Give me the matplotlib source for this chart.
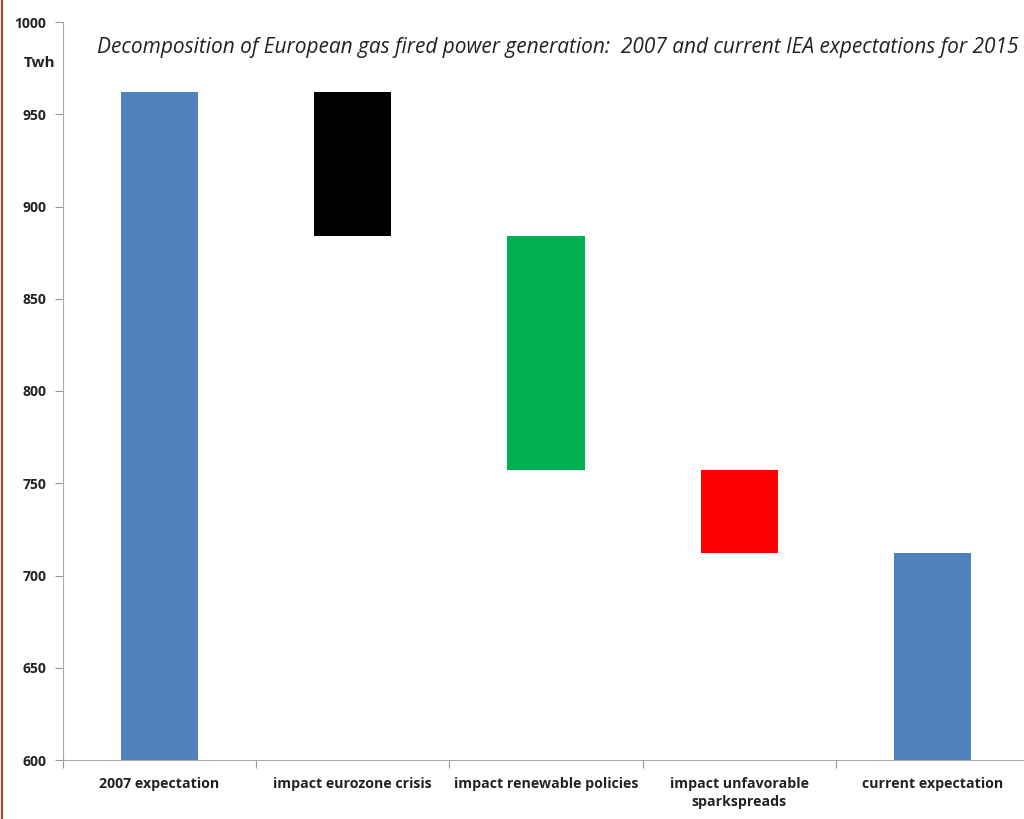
import matplotlib.pyplot as plt
from matplotlib.lines import Line2D

# Waterfall data (Twh)
categories = ['2007 expectation', 'impact eurozone crisis', 'impact renewable policies',
              'impact unfavorable\nsparkspreads', 'current expectation']
start_value = 962
changes = [-78, -127, -45]
end_value = 712
colors = ['#4F81BD', '#000000', '#00B050', '#FF0000', '#4F81BD']

# build bottoms / heights from the running total
bottoms = [600]
heights = [start_value - 600]
level = start_value
for c in changes:
    level = level + c
    bottoms.append(level)
    heights.append(-c)
bottoms.append(600)
heights.append(end_value - 600)

plt.rcParams['font.family'] = ['Open Sans', 'DejaVu Sans']

fig = plt.figure(figsize=(10.24, 8.19), dpi=100)
ax = fig.add_axes([63/1024, 1 - 760/819, 966/1024, 738/819])

x = list(range(len(categories)))
ax.bar(x, heights, bottom=bottoms, width=0.4, color=colors)

ax.set_ylim(600, 1000)
ax.set_xlim(-0.5, len(categories) - 0.5)
ax.set_yticks(range(600, 1001, 50))
ax.set_yticklabels([str(v) for v in range(600, 1001, 50)], fontsize=10, fontweight='bold', color='#222222')

ax.set_xticks([i + 0.5 for i in range(-1, len(categories))])
ax.set_xticklabels([])
ax.set_xticks(x, minor=True)
ax.set_xticklabels(categories, minor=True, fontsize=10.2, fontweight='bold', color='#222222',
                   va='top', linespacing=1.4)
ax.tick_params(axis='x', which='minor', length=0, pad=12)
ax.tick_params(axis='x', which='major', length=6, color='#999999', direction='out')
ax.tick_params(axis='y', length=6, color='#999999', direction='out', pad=6)

for s in ['top', 'right']:
    ax.spines[s].set_visible(False)
ax.spines['left'].set_color('#aaaaaa')
ax.spines['bottom'].set_color('#aaaaaa')

fig.text(40/1024, 1 - 63/819, 'Twh', fontsize=11, fontweight='bold', ha='center', va='center', color='#222222')
fig.text(97/1024, 1 - 48/819,
         'Decomposition of European gas fired power generation:  2007 and current IEA expectations for 2015',
         fontsize=15, style='italic', ha='left', va='center', color='#222222')

fig.add_artist(Line2D([2/1024, 2/1024], [0, 1], color='#C0392B', linewidth=1.5))

fig.savefig('out.png', dpi=100)
